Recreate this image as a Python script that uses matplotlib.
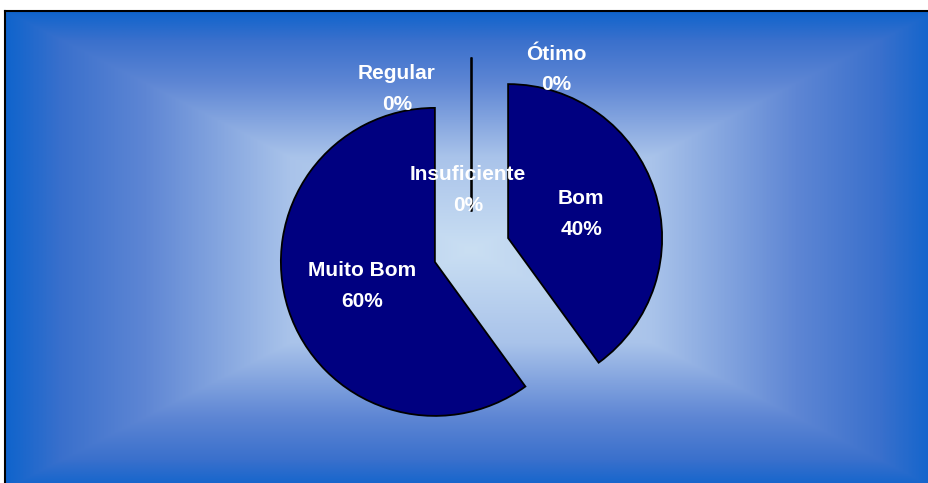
import numpy as np
import matplotlib.pyplot as plt
from matplotlib.colors import LinearSegmentedColormap

categorias = ['Ótimo', 'Bom', 'Muito Bom', 'Regular', 'Insuficiente']
percentuais = [0, 40, 60, 0, 0]

# Excel nudged the labels of the empty slices apart (offset from slice centre)
desvio_rotulo = {'Ótimo': (0.552, 0.922),
                 'Regular': (-0.484, 0.795),
                 'Insuficiente': (-0.023, 0.140)}

fig = plt.figure(figsize=(9.29, 4.83), dpi=100)

# rectangular "from centre" gradient behind the chart
bg = fig.add_axes([5 / 929, -6 / 483, 932 / 929, 478 / 483])
u = np.linspace(-1, 1, 800)
uu, vv = np.meshgrid(u, u)
t = np.maximum(np.abs(uu), np.abs(vv))
cmap = LinearSegmentedColormap.from_list(
    'fundo', [(0, '#cadff3'), (0.39, '#a9c3ea'), (0.7, '#5e86d4'),
              (0.88, '#3a70cc'), (1, '#0f64cc')])
bg.imshow(t, cmap=cmap, extent=(-1, 1, -1, 1), aspect='auto',
          vmin=0, vmax=1, interpolation='bilinear')
bg.set_xticks([])
bg.set_yticks([])
for s in ['right', 'bottom']:
    bg.spines[s].set_visible(False)
for s in ['left', 'top']:
    bg.spines[s].set_linewidth(1.5)

ax = fig.add_axes([0, 0, 1, 1])
ax.patch.set_visible(False)
rotulos = [f'{c}\n{p}%' for c, p in zip(categorias, percentuais)]
wedges, texts = ax.pie(percentuais, labels=rotulos, explode=[0.25] * 5,
                       startangle=90, counterclock=False, radius=1,
                       labeldistance=0.5,
                       colors=['#000080'] * 5,
                       wedgeprops=dict(edgecolor='black', linewidth=1.3),
                       textprops=dict(ha='center', va='center', color='white',
                                      fontweight='bold', fontsize=15,
                                      linespacing=1.78, family='Liberation Sans'))
for w, txt, c in zip(wedges, texts, categorias):
    if c in desvio_rotulo:
        dx, dy = desvio_rotulo[c]
        txt.set_position((w.center[0] + dx, w.center[1] + dy))

ax.set_aspect('auto')
ax.set_xlim(-471.5 / 154, (929 - 471.5) / 154)
ax.set_ylim((250 - 483) / 154, 250 / 154)
ax.set_axis_off()

plt.savefig('out.png', dpi=100)
